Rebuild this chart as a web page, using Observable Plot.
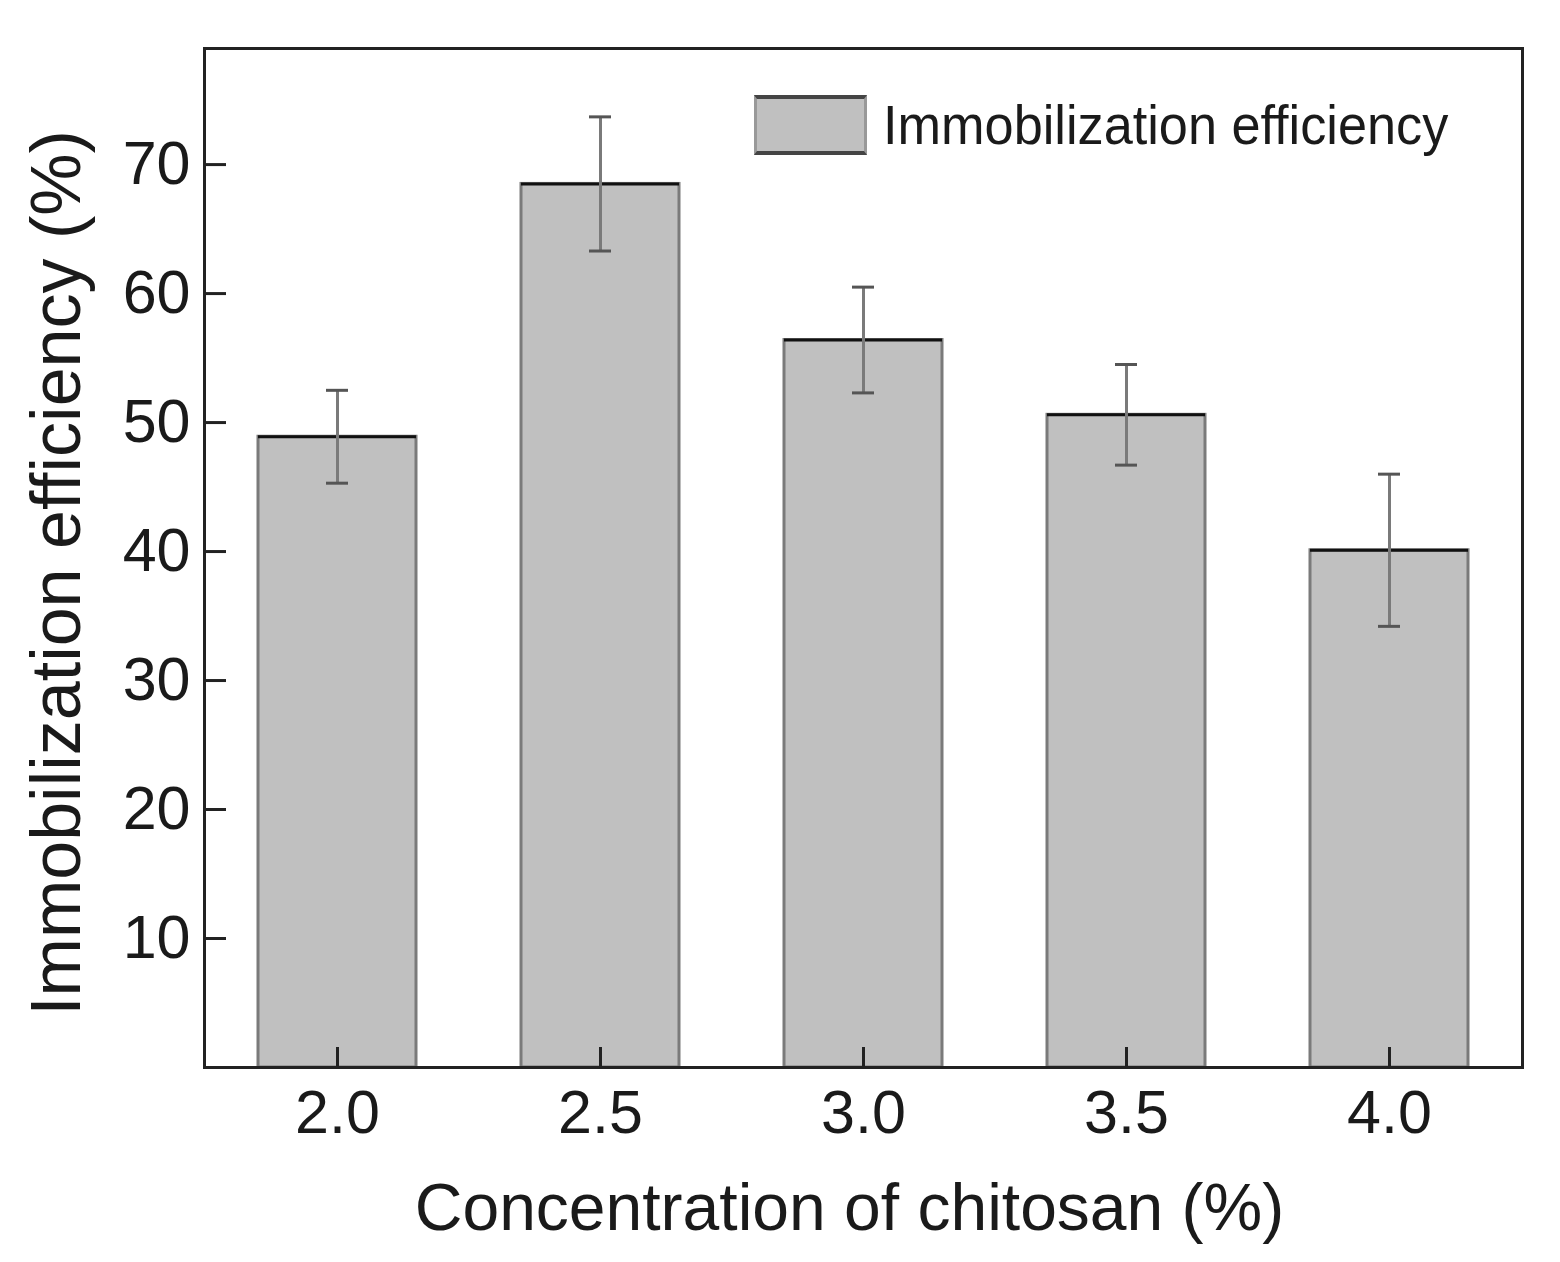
<!DOCTYPE html>
<html>
<head>
<meta charset="utf-8">
<script src="https://cdn.jsdelivr.net/npm/d3@7"></script>
<script src="https://cdn.jsdelivr.net/npm/@observablehq/plot@0.6"></script>
<style>
  html, body { margin: 0; padding: 0; background: #fff; }
  #wrap { position: relative; width: 1560px; height: 1262px; }
  #legend { position: absolute; left: 754px; top: 93px; display: flex; align-items: center;
    font-family: "Liberation Sans", Arial, sans-serif; font-size: 55px; color: #1a1a1a; }
  #legend .sw { width: 107px; height: 52px; background: #c0c0c0; border-top: 4px solid #444;
    border-bottom: 4px solid #444; border-left: 3px solid #999; border-right: 3px solid #999; margin-right: 16px; }
  #legend span { transform: scaleX(0.95); transform-origin: left center; display: inline-block; }
</style>
</head>
<body>
<div id="wrap">
  <div id="chart"></div>
  <div id="legend"><div class="sw"></div><span>Immobilization efficiency</span></div>
</div>
<script>
const concentrations = ["2.0", "2.5", "3.0", "3.5", "4.0"];
const efficiency = [48.9, 68.5, 56.4, 50.6, 40.1];
const errors = [3.6, 5.2, 4.1, 3.9, 5.9];
const yTicks = [10, 20, 30, 40, 50, 60, 70];
const xTitle = "Concentration of chitosan (%)";
const yTitle = "Immobilization efficiency (%)";

const data = concentrations.map((c, i) => ({
  c, v: efficiency[i], lo: efficiency[i] - errors[i], hi: efficiency[i] + errors[i]
}));

const font = "'Liberation Sans', Arial, sans-serif";

const chart = Plot.plot({
  width: 1560,
  height: 1262,
  marginLeft: 204,
  marginRight: 38,
  marginTop: 48,
  marginBottom: 195,
  style: { fontFamily: font, background: "#fff", color: "#1a1a1a" },
  x: { domain: concentrations, paddingInner: 0.4, paddingOuter: 0.2 },
  y: { domain: [0, 79] },
  marks: [
    Plot.barY(data, { x: "c", y: "v", fill: "#c0c0c0", stroke: "#7a7a7a", strokeWidth: 3 }),
    Plot.tickY(data, { x: "c", y: "v", stroke: "#111", strokeWidth: 3 }),
    Plot.ruleX(data, { x: "c", y1: "lo", y2: "hi", stroke: "#7a7a7a", strokeWidth: 3 }),
    Plot.tickY(data, { x: "c", y: "hi", stroke: "#555", strokeWidth: 3, insetLeft: 68, insetRight: 68 }),
    Plot.tickY(data, { x: "c", y: "lo", stroke: "#555", strokeWidth: 3, insetLeft: 68, insetRight: 68 }),
    // y axis: labels and inward ticks
    Plot.axisY(yTicks, { anchor: "left", tickSize: 0, tickPadding: 14, fontSize: 61, label: null, fill: "#1a1a1a" }),
    Plot.axisY(yTicks, { anchor: "left", tickSize: 22, dx: 22, text: null, label: null, stroke: "#222", strokeWidth: 3 }),
    // x axis: labels and inward ticks
    Plot.axisX({ anchor: "bottom", tickSize: 0, tickPadding: 22, fontSize: 61, label: null, fill: "#1a1a1a" }),
    Plot.axisX({ anchor: "bottom", tickSize: 20, dy: -20, text: null, label: null, stroke: "#222", strokeWidth: 3 }),
    Plot.frame({ stroke: "#222", strokeWidth: 3 }),
    Plot.text([xTitle], { frameAnchor: "bottom", dx: -14, dy: 141, fontSize: 66, fill: "#1a1a1a", lineAnchor: "middle", textAnchor: "middle" }),
    Plot.text([yTitle], { frameAnchor: "left", dx: -147, dy: 15, rotate: -90, fontSize: 70, fill: "#1a1a1a", lineAnchor: "middle", textAnchor: "middle" })
  ]
});
document.getElementById("chart").appendChild(chart);
</script>
</body>
</html>
